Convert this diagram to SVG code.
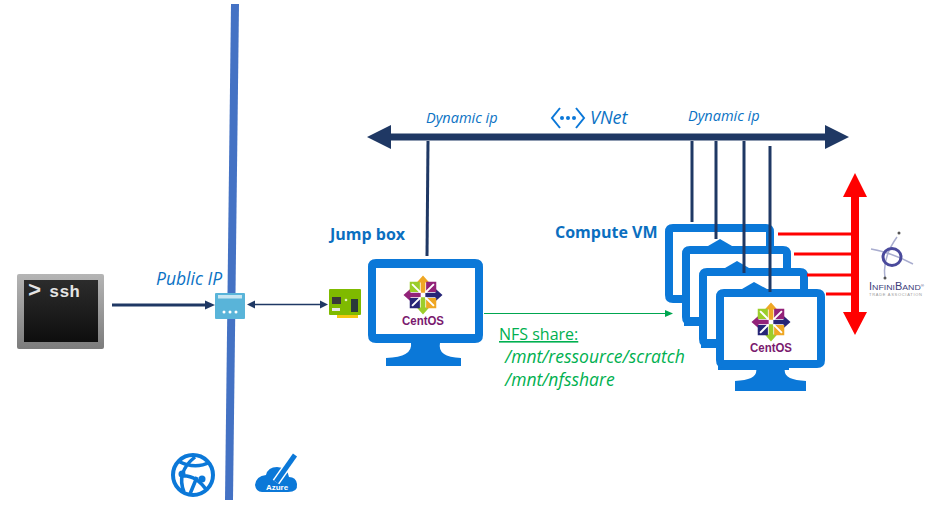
<svg xmlns="http://www.w3.org/2000/svg" width="944" height="515" viewBox="0 0 944 515">
<defs>
<style>
text{font-family:"Open Sans","Noto Sans","Liberation Sans",sans-serif}
.lbl{font-style:italic;fill:#0b72c4}
.dyn{font-size:14.500px}
.hd{font-size:16px;font-weight:700;fill:#0b6fc0}
.grn{font-size:17.500px;font-style:italic;fill:#00b050}
.net{stroke:#1f3864;stroke-width:3;fill:none}
.red{stroke:#f00;stroke-width:3;fill:none}
.mon{fill:#0b78d8}
.lib{font-family:"Liberation Sans",sans-serif}
</style>
<linearGradient id="frame" x1="0" y1="0" x2="0" y2="1"><stop offset="0" stop-color="#b5b5b5"/><stop offset="1" stop-color="#7c7c7c"/></linearGradient>
<linearGradient id="screen" x1="0" y1="0" x2="0" y2="1"><stop offset="0" stop-color="#2c2c2c"/><stop offset="1" stop-color="#0e0e0e"/></linearGradient>
<g id="centos-logo">
<g transform="scale(.78)">
<polygon points="0,-25 8,-16 3,-16 3,-3 -3,-3 -3,-16 -8,-16" fill="#efa724"/>
<polygon points="25,0 16,8 16,3 3,3 3,-3 16,-3 16,-8" fill="#262577"/>
<polygon points="0,25 -8,16 -3,16 -3,3 3,3 3,16 8,16" fill="#9ccd2a"/>
<polygon points="-25,0 -16,-8 -16,-3 -3,-3 -3,3 -16,3 -16,8" fill="#932279"/>
<polygon points="-17,-17 -4,-17 -4,-6 -6,-4 -17,-4" fill="#9ccd2a"/>
<polygon points="17,-17 4,-17 4,-6 6,-4 17,-4" fill="#932279"/>
<polygon points="17,17 4,17 4,6 6,4 17,4" fill="#efa724"/>
<polygon points="-17,17 -4,17 -4,6 -6,4 -17,4" fill="#262577"/>
<path d="M-14-14-3-3M14-14 3-3M14 14 3 3M-14 14-3 3" stroke="#fff" stroke-width="2.500"/>
</g>
<text class="lib" x="0" y="30" text-anchor="middle" font-size="12.500" font-weight="700" fill="#7a1a6e" textLength="42" lengthAdjust="spacingAndGlyphs">CentOS</text>
</g>
<g id="monitor">
<path class="mon" d="M8 0H101Q109 0 109 8V71Q109 79 101 79H69Q66 91 90 92V102H19V92Q43 91 40 79H8Q0 79 0 71V8Q0 0 8 0Z"/>
<rect x="8" y="8" width="93" height="63" fill="#fff"/>
</g>
</defs>
<rect width="944" height="515" fill="#fff"/>
<g id="subnet-boundary">
<line x1="235" y1="4" x2="229" y2="500" stroke="#4472c4" stroke-width="8"/>
</g>
<g id="ssh">
<rect x="17" y="274" width="87" height="75" rx="2" fill="url(#frame)"/>
<rect x="24" y="280" width="74" height="62" fill="url(#screen)"/>
<text y="297" font-weight="700" fill="#e4e4e4" style="font-family:'Liberation Mono',monospace"><tspan x="28" font-size="22">&gt;</tspan><tspan x="49" font-size="17">ssh</tspan></text>
</g>
<g id="public-ip">
<text class="lbl" x="156" y="285" font-size="17.500">Public IP</text>
<rect x="215" y="293" width="30" height="26" rx="1" fill="#59b4d9"/>
<rect x="218" y="295" width="24" height="3.500" fill="#c8e6f2"/>
<circle cx="224" cy="312" r="1.500" fill="#fff"/><circle cx="230" cy="312" r="1.500" fill="#fff"/><circle cx="236" cy="312" r="1.500" fill="#fff"/>
</g>
<g id="nic">
<rect x="337" y="312" width="21" height="6" fill="#f2c811"/>
<rect x="329" y="289" width="32" height="26" rx="1" fill="#7fba00"/>
<rect x="332" y="297" width="9" height="7" fill="#3a3a3a"/>
<rect x="351" y="299" width="7" height="13" fill="#2a3a3a"/>
<rect x="332" y="308" width="8" height="3" fill="#e8e8e8"/>
<circle cx="346" cy="300" r="1.300" fill="#e8f4c0"/>
</g>
<g id="jumpbox">
<text class="hd" x="330" y="240">Jump box</text>
<path class="mon" d="M376 259H475Q483 259 483 267V335Q483 343 475 343H440Q437 357 461 358V366H386V358Q413 357 411 343H376Q368 343 368 335V267Q368 259 376 259Z"/>
<rect x="376" y="268" width="99" height="66" fill="#fff"/>
<use href="#centos-logo" x="423" y="295"/>
</g>
<g id="compute">
<text class="hd" x="555" y="238">Compute VM</text>
<use href="#monitor" x="665" y="224"/>
<use href="#monitor" x="682" y="246"/>
<polygon points="708,246 720,239 732,246" fill="#0b78d8"/>
<use href="#monitor" x="699" y="268"/>
<polygon points="725,268 737,261 749,268" fill="#0b78d8"/>
<use href="#monitor" x="716" y="289"/>
<polygon points="742,289 754,282 767,289" fill="#0b78d8"/>
<use href="#centos-logo" x="771" y="322"/>
</g>
<g id="vnet">
<text class="lbl dyn" x="426" y="123">Dynamic ip</text>
<text class="lbl dyn" x="688" y="121">Dynamic ip</text>
<text class="lbl" x="590" y="124" font-size="18">VNet</text>
<path d="M560 108 552 118 560 128M576 108 584 118 576 128" fill="none" stroke="#0b78d8" stroke-width="2"/>
<circle cx="562" cy="118" r="2" fill="#0b78d8"/><circle cx="568" cy="118" r="2" fill="#0b78d8"/><circle cx="574" cy="118" r="2" fill="#0b78d8"/>
</g>
<g id="nfs">
<text class="grn" x="499" y="340" style="font-style:normal;font-size:16px" text-decoration="underline">NFS share:</text>
<text class="grn" x="505" y="363">/mnt/ressource/scratch</text>
<text class="grn" x="505" y="386">/mnt/nfsshare</text>
</g>
<g id="infiniband">
<path d="M871 249Q890 252 913 264M897 237Q882 258 885 277" fill="none" stroke="#a9adcf" stroke-width="1.500"/>
<ellipse cx="892" cy="257" rx="9" ry="8.500" fill="none" stroke="#4a4a9c" stroke-width="3"/>
<circle cx="899" cy="233" r="1.500" fill="#555"/><circle cx="885" cy="278" r="1.500" fill="#555"/>
<text class="lib" x="869" y="290" font-size="8" fill="#3d3d7a" textLength="55" lengthAdjust="spacingAndGlyphs"><tspan font-size="10">I</tspan>NFINI<tspan font-size="10">B</tspan>AND<tspan font-size="4" dy="-3">®</tspan></text>
<text class="lib" x="869" y="296" font-size="4" fill="#999" textLength="53">TRADE ASSOCIATION</text>
</g>
<g id="azure-icons">
<circle cx="193" cy="475" r="20" fill="none" stroke="#0b78d8" stroke-width="4"/>
<path d="M178 461Q195 470 210 462M184 492Q176 472 195 457M180 476Q196 474 207 491M197 477 190 494" fill="none" stroke="#0b78d8" stroke-width="3.500"/>
<circle cx="182" cy="474" r="3.500" fill="#0b78d8"/><circle cx="202" cy="479" r="3.500" fill="#0b78d8"/>
<path d="M262 492H288Q298 492 297 484 296 477 289 477 287 467 277 467 268 467 266 475 256 476 255 485 256 492 262 492Z" fill="#0b78d8"/>
<path d="M276 482 295 455" stroke="#fff" stroke-width="8"/>
<path d="M276 482 295 455" stroke="#0b78d8" stroke-width="5"/>
<text class="lib" x="277" y="490" text-anchor="middle" font-size="8" font-weight="700" fill="#fff">Azure</text>
</g>
<g id="connectors">
<path d="M367 137 391 125V133.500H825V125L849 137 825 149V140.500H391V149Z" fill="#1f3864"/>
<line class="net" x1="428" y1="141" x2="427" y2="256"/>
<line class="net" x1="692" y1="141" x2="692" y2="222"/>
<line class="net" x1="716" y1="141" x2="716" y2="239"/>
<line class="net" x1="744" y1="141" x2="744" y2="273"/>
<line class="net" x1="770" y1="146" x2="770" y2="292"/>
<line x1="112" y1="305" x2="206" y2="305" stroke="#1f3864" stroke-width="3"/>
<polygon points="215,305 205,300.500 205,309.500" fill="#1f3864"/>
<line x1="255" y1="304.500" x2="320" y2="304.500" stroke="#1f3864" stroke-width="1.500"/>
<polygon points="247,304.500 255,300.500 255,308.500" fill="#1f3864"/>
<polygon points="328,304.500 320,300.500 320,308.500" fill="#1f3864"/>
<line x1="484" y1="313.500" x2="667" y2="313.500" stroke="#00a650" stroke-width="1"/>
<polygon points="673,313.500 665,310 665,317" fill="#00a650"/>
<line class="red" x1="778" y1="234" x2="852" y2="234"/>
<line class="red" x1="794" y1="254" x2="852" y2="254"/>
<line class="red" x1="807" y1="275" x2="852" y2="275"/>
<line class="red" x1="826" y1="294" x2="852" y2="294"/>
<path d="M855 173 867 197H859V312H867L855 335 843 312H851V197H843Z" fill="#f00"/>
</g>
</svg>
